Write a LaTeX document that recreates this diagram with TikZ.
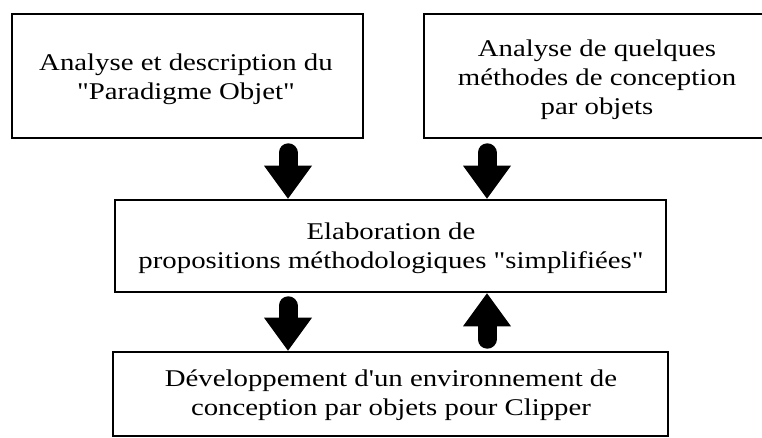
\documentclass[tikz,border=0pt]{standalone}
\usepackage{fontspec}
% straight quotes and apostrophes, slightly widened serif face
\setmainfont[FakeStretch=1.2, Ligatures=TeXOff]{Liberation Serif}
\usetikzlibrary{arrows.meta}
\begin{document}
\begin{tikzpicture}[x=1pt,y=-1pt,
  box/.style={draw, line width=2.6pt, rectangle, inner sep=0pt},
  txt/.style={align=center, font=\fontsize{24}{29}\selectfont, inner sep=0pt},
  bigarrow/.style={line width=19pt, line cap=round,
    -{Triangle[width=48pt, length=33pt, line width=0pt]}}
]
\useasboundingbox (0,0) rectangle (762,438);
\fill[white] (0,0) rectangle (762,438);

% the four stages
\node[box, minimum width=351pt, minimum height=124pt] (para) at (187.5,76) {};
\node[txt] (paratxt) at (186,79) {Analyse et description du\\"Paradigme Objet"};

\node[box, minimum width=346pt, minimum height=124pt] (meth) at (597,76) {};
\node[txt] (methtxt) at (597,80) {Analyse de quelques\\méthodes de conception\\par objets};

\node[box, minimum width=551pt, minimum height=92pt] (elab) at (390.5,246) {};
\node[txt] (elabtxt) at (391,248) {Elaboration de\\propositions méthodologiques "simplifiées"};

\node[box, minimum width=555pt, minimum height=84pt] (dev) at (390.5,394) {};
\node[txt] (devtxt) at (391,395) {Développement d'un environnement de\\conception par objets pour Clipper};

% columns of the block arrows
\coordinate (xl) at (288,0);
\coordinate (xr) at (487,0);

\draw[bigarrow, shorten <=13.5pt] (para.south -| xl) -- (elab.north -| xl);
\draw[bigarrow, shorten <=13.5pt] (meth.south -| xr) -- (elab.north -| xr);
\draw[bigarrow, shorten <=12.5pt] (elab.south -| xl) -- (dev.north -| xl);
\draw[bigarrow, shorten <=11.5pt] (dev.north -| xr) -- (elab.south -| xr);
\end{tikzpicture}
\end{document}
